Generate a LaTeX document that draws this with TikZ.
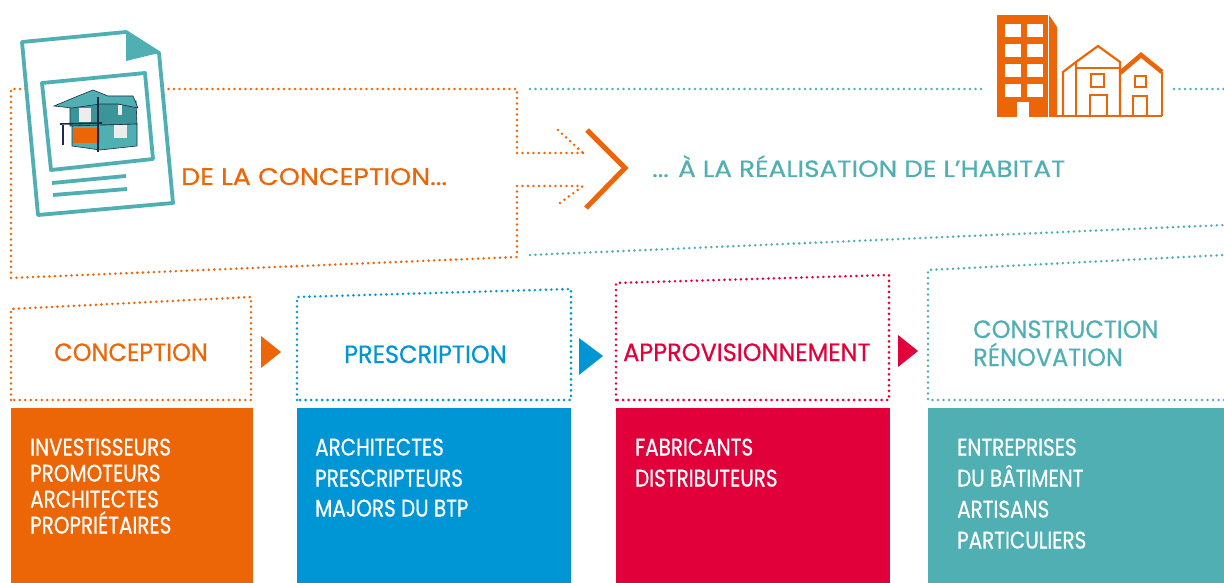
\documentclass[tikz,border=0pt]{standalone}
\usepackage{fontspec}
\setmainfont{Poppins}[FakeStretch=0.83, FakeBold=0.6]
\newfontfamily\headfont{Poppins}[FakeStretch=0.96, FakeBold=0.6]
\newfontfamily\capfont{Poppins}[FakeStretch=1.12, FakeBold=0.6]
\definecolor{corange}{HTML}{EC6608}
\definecolor{cblue}{HTML}{0096D6}
\definecolor{cred}{HTML}{E2003A}
\definecolor{cteal}{HTML}{4FAFB3}
\definecolor{cnavy}{HTML}{1F2A44}
\definecolor{cteald}{HTML}{3B9498}
\definecolor{cpale}{HTML}{EDEDED}
\begin{document}
\begin{tikzpicture}[x=1pt,y=-1pt,
  dots/.style={line width=2.8pt, line cap=round, dash pattern=on 0pt off 5.5pt},
  band/.style={anchor=north west, inner sep=0pt, outer sep=0pt, minimum height=175pt},
  head/.style={anchor=base west, inner sep=0pt, font=\headfont\fontsize{25}{30}\selectfont},
  item/.style={anchor=base west, inner sep=0pt, text=white, font=\fontsize{24}{26}\selectfont},
  caption/.style={anchor=base west, inner sep=0pt},
  pin/.style={line width=3.8pt, cteal, line join=round},
  hline/.style={line width=2.2pt, corange, line join=miter}]
\useasboundingbox (0,0) rectangle (1224,583);

% ---- upper band: dotted frames ----
\draw[dots, corange] (583,153) -- (517,153) -- (517,89) -- (11,89) -- (11,278)
  -- (517,257) -- (517,186) -- (583,186);
\draw[dots, corange] (558,130) -- (583,153);
\draw[dots, corange] (560,203) -- (583,186);
\draw[dots, cteal] (530,89) -- (985,89);
\draw[dots, cteal] (1174,89) -- (1224,89);
\draw[dots, cteal] (530,255) -- (1224,225);

% chevron
\draw[corange, line width=5pt, line join=miter] (587,130) -- (625,168) -- (586,208);

% ---- document icon ----
\draw[pin, fill=white] (22,42) -- (126,32) -- (159,53) -- (173,203) -- (38,215) -- cycle;
\fill[cteal] (126,32) -- (159,53) -- (126,61) -- cycle;
\draw[pin] (42,83) -- (145,73) -- (153,159) -- (51,170) -- cycle;
\draw[pin] (52,183) -- (126,176);
\draw[pin] (53,195) -- (127,189);
% house sketch
\filldraw[fill=cteald, draw=cnavy, line width=0.6pt] (70,104) -- (136,101) -- (137,124) -- (70,126) -- cycle;
\filldraw[fill=cteal, draw=cnavy, line width=0.6pt] (72,126) -- (137,124) -- (137,146) -- (100,150) -- (72,146) -- cycle;
\filldraw[fill=cteal, draw=cnavy, line width=0.6pt] (54,106) -- (78,96) -- (93,90) -- (108,96) -- (133,96)
  -- (138,108) -- (118,104) -- (100,104) -- (72,108) -- cycle;
\fill[cpale] (79,108) rectangle (91,122);
\fill[cpale] (118,105) rectangle (122,115);
\fill[cpale] (114,125) rectangle (127,138);
\fill[corange] (73,128) rectangle (100,143);
\draw[cnavy, line width=1.6pt] (60,124) -- (102,123);
\draw[cnavy, line width=1.6pt] (63,125) -- (63,145);
\draw[cnavy, line width=1.6pt] (98,97) -- (98,152);

% ---- buildings icon ----
\fill[corange] (997,15) rectangle (1048,117);
\fill[corange] (1049,15) -- (1057,27) -- (1057,117) -- (1049,117) -- cycle;
\foreach \wx in {1005,1027}
  \foreach \wy in {24,44,64,84}
    \fill[white] (\wx,\wy) rectangle ++(16,13);
\fill[white] (1017,102) rectangle (1029,117);
\draw[hline] (1057,116) -- (1162,116);
\draw[hline] (1063,116) -- (1063,72) -- (1076,62) -- (1098,46) -- (1120,62) -- (1120,116);
\draw[hline] (1076,62) -- (1076,116);
\draw[hline] (1076,68) -- (1120,68);
\draw[corange, line width=4.5pt, line join=miter] (1120,73) -- (1141,55) -- (1162,72);
\draw[hline] (1162,72) -- (1162,116);
\draw[hline] (1091,74) rectangle (1104,87);
\draw[hline] (1135,76) rectangle (1146,87);
\draw[hline] (1090,116) -- (1090,95) -- (1107,95) -- (1107,116);
\draw[hline] (1133,116) -- (1133,96) -- (1147,96) -- (1147,116);

% ---- captions ----
\node[caption, text=corange, font=\capfont\fontsize{24}{28}\selectfont] (from) at (181,185) {DE LA CONCEPTION...};
\node[caption, text=cteal, font=\capfont\fontsize{23.5}{28}\selectfont] (to) at (652,177) {... À LA RÉALISATION DE L’HABITAT};

% ---- lower band: dotted headers ----
\draw[dots, corange] (11,400) -- (11,309) -- (251,297) -- (251,400) -- cycle;
\draw[dots, cblue] (297,400) -- (297,297) -- (571,289) -- (571,400) -- cycle;
\draw[dots, cred] (616,400) -- (616,283) -- (889,275) -- (889,400) -- cycle;
\draw[dots, cteal] (1224,400) -- (928,400) -- (928,270) -- (1224,255);

\node[head, text=corange] (hA) at (54,361) {CONCEPTION};
\node[head, text=cblue] (hB) at (344,363) {PRESCRIPTION};
\node[head, text=cred] (hC) at (623,361) {APPROVISIONNEMENT};
\node[head, text=cteal] (hD1) at (973,338) {CONSTRUCTION};
\node[head, text=cteal] (hD2) at (973,366) {RÉNOVATION};

% step markers
\fill[corange] (261,336) -- (281,352) -- (261,368) -- cycle;
\fill[cblue] (579,338) -- (603,356) -- (579,375) -- cycle;
\fill[cred] (898,335) -- (918,351) -- (898,367) -- cycle;

% ---- lower band: coloured panels ----
\node[band, fill=corange, minimum width=242pt] (pA) at (11,408) {};
\node[band, fill=cblue, minimum width=274pt] (pB) at (297,408) {};
\node[band, fill=cred, minimum width=274pt] (pC) at (616,408) {};
\node[band, fill=cteal, minimum width=296pt] (pD) at (928,408) {};

\node[item] (a1) at (30,455.5) {INVESTISSEURS};
\node[item] (a2) at (30,481.5) {PROMOTEURS};
\node[item] (a3) at (30,507.5) {ARCHITECTES};
\node[item] (a4) at (30,533.5) {PROPRIÉTAIRES};

\node[item] (b1) at (315,455.5) {ARCHITECTES};
\node[item] (b2) at (315,486.5) {PRESCRIPTEURS};
\node[item] (b3) at (315,516.5) {MAJORS DU BTP};

\node[item] (c1) at (635,455.5) {FABRICANTS};
\node[item] (c2) at (635,486.5) {DISTRIBUTEURS};

\node[item] (d1) at (957,455.5) {ENTREPRISES};
\node[item] (d2) at (957,486.5) {DU BÂTIMENT};
\node[item] (d3) at (957,517.5) {ARTISANS};
\node[item] (d4) at (957,548.5) {PARTICULIERS};
\end{tikzpicture}
\end{document}
